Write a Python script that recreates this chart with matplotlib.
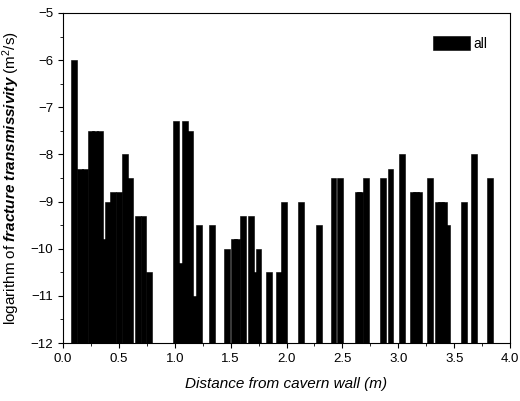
import matplotlib
matplotlib.use('Agg')
import matplotlib.pyplot as plt
from matplotlib.ticker import MultipleLocator

# distance from cavern wall (m) and log10 transmissivity (m2/s)
dist = [0.10, 0.15, 0.20, 0.25, 0.29, 0.33, 0.36, 0.40, 0.45, 0.50, 0.555, 0.60,
        0.67, 0.72, 0.77,
        1.01, 1.05, 1.09, 1.14, 1.18, 1.22, 1.33, 1.47, 1.53, 1.56, 1.61, 1.71,
        1.68, 1.75, 1.84, 1.93, 1.98, 2.13, 2.29, 2.42, 2.48, 2.64, 2.66, 2.71,
        2.86, 2.93, 3.03, 3.13, 3.16, 3.19, 3.28, 3.35, 3.38, 3.41, 3.44, 3.585,
        3.68, 3.82]
logT = [-6.0, -8.3, -8.3, -7.5, -7.5, -7.5, -9.8, -9.0, -8.8, -8.8, -8.0, -8.5,
        -9.3, -9.3, -10.5,
        -7.3, -10.3, -7.3, -7.5, -11.0, -9.5, -9.5, -10.0, -9.8, -9.8, -9.3, -10.5,
        -9.3, -10.0, -10.5, -10.5, -9.0, -9.0, -9.5, -8.5, -8.5, -8.8, -8.8, -8.5,
        -8.5, -8.3, -8.0, -8.8, -8.8, -8.8, -8.5, -9.0, -9.0, -9.0, -9.5, -9.0,
        -8.0, -8.5]

plt.rcParams['font.family'] = ['Liberation Sans', 'DejaVu Sans']
plt.rcParams['mathtext.fontset'] = 'custom'
plt.rcParams['mathtext.rm'] = 'Liberation Sans'
plt.rcParams['mathtext.it'] = 'Liberation Sans:italic'
plt.rcParams['mathtext.bf'] = 'Liberation Sans:italic:bold'

fig = plt.figure(figsize=(5.2, 4.01), dpi=100)
ax = fig.add_axes([0.121, 0.1446, 0.86, 0.823])

base = -12
ax.bar(dist, [v - base for v in logT], bottom=base, width=0.052,
       color='black', edgecolor='black', linewidth=0.4, label='all')

ax.set_xlim(0, 4.0)
ax.set_ylim(-12, -5)
ax.xaxis.set_major_locator(MultipleLocator(0.5))
ax.xaxis.set_minor_locator(MultipleLocator(0.25))
ax.yaxis.set_major_locator(MultipleLocator(1))
ax.yaxis.set_minor_locator(MultipleLocator(0.5))
ax.xaxis.set_major_formatter(matplotlib.ticker.FormatStrFormatter('%.1f'))
ax.tick_params(which='both', direction='out', top=False, right=False, labelsize=9.5)
ax.tick_params(which='major', length=3.5)
ax.tick_params(which='minor', length=2)

ax.set_xlabel('Distance from cavern wall (m)', fontsize=11, style='italic', labelpad=9)
ax.set_ylabel(r'logarithm of $\mathbf{fracture\ transmissivity}$ (m$^2$/s)', fontsize=11,
              labelpad=6)

ax.legend(loc='upper right', frameon=False, fontsize=10, handlelength=2.6,
          handleheight=1.15, handletextpad=0.3, borderpad=0, borderaxespad=0,
          bbox_to_anchor=(0.95, 0.93))

fig.savefig('out.png', dpi=100)
